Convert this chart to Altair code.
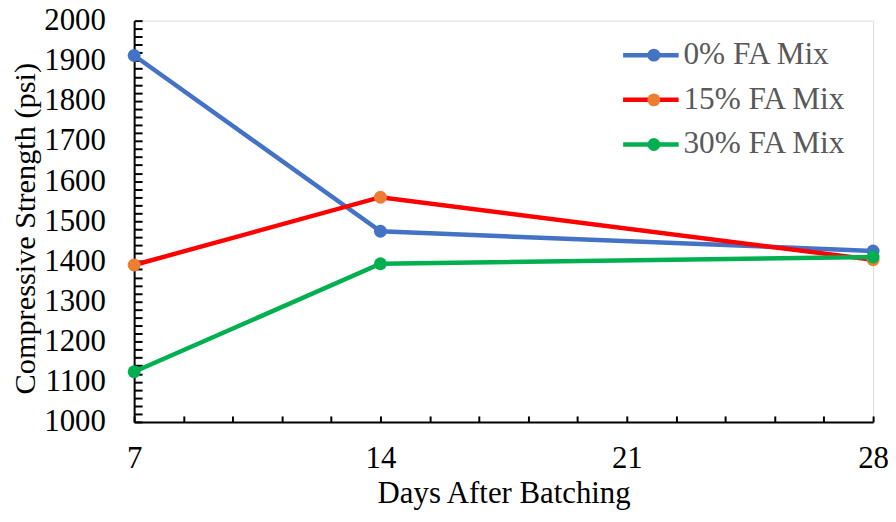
import altair as alt
import pandas as pd

# ---- data ----
days = [7, 14, 28]
series_names = ["0% FA Mix", "15% FA Mix", "30% FA Mix"]
fa0 = [1913, 1475, 1426]
fa15 = [1391, 1560, 1404]
fa30 = [1125, 1394, 1411]
line_colors = ["#4472C4", "#FF0000", "#00B050"]
marker_colors = ["#4472C4", "#ED7D31", "#00B050"]
y_labels = [1000, 1100, 1200, 1300, 1400, 1500, 1600, 1700, 1800, 1900, 2000]
x_labels = [7, 14, 21, 28]
y_minor = list(range(1000, 2001, 20))
x_minor = [round(7 + 1.4 * i, 2) for i in range(16)]

# marker legend uses a different domain (trailing no-break space) so that
# Vega-Lite keeps the line legend and the marker legend apart
marker_names = [n + "\u00a0" for n in series_names]

rows = []
for name, mname, vals in zip(series_names, marker_names, [fa0, fa15, fa30]):
    for d, v in zip(days, vals):
        rows.append({"day": d, "strength": v, "series": name, "marker": mname})
df = pd.DataFrame(rows)

FONT = "Liberation Serif"
W, H = 744, 404
LEG_FS = 31.5

xscale = alt.Scale(domain=[7, 28], nice=False, zero=False)
yscale = alt.Scale(domain=[1000, 2000], nice=False, zero=False)

base = alt.Chart(df)

tick_layer = base.mark_circle(opacity=0).encode(
    x=alt.X("day:Q", scale=xscale, axis=alt.Axis(
        orient="top", offset=-H, values=x_minor, labels=False, domain=False,
        ticks=True, tickSize=6, tickWidth=2, tickColor="black", title=None, grid=False)),
    y=alt.Y("strength:Q", scale=yscale, axis=alt.Axis(
        orient="right", offset=-W, values=y_minor, labels=False, domain=False,
        ticks=True, tickSize=8, tickWidth=2, tickColor="black", title=None, grid=False)),
)

lines = base.mark_line(strokeWidth=4.5).encode(
    x=alt.X("day:Q", scale=xscale, axis=alt.Axis(
        orient="bottom", values=x_labels, format="d", title="Days After Batching",
        ticks=False, tickSize=0, labelPadding=46, labelBaseline="alphabetic",
        labelFlush=False, domainColor="black", domainWidth=2,
        labelFont=FONT, labelFontSize=31, labelColor="black",
        titleFont=FONT, titleFontSize=31, titleFontWeight="normal", titleColor="black",
        titleY=81, titleBaseline="alphabetic", grid=False)),
    y=alt.Y("strength:Q", scale=yscale, axis=alt.Axis(
        orient="left", values=y_labels, format="d", title="Compressive Strength (psi)",
        ticks=False, tickSize=0, labelPadding=29, labelFlush=False,
        domainColor="black", domainWidth=2,
        labelFont=FONT, labelFontSize=31, labelColor="black",
        titleFont=FONT, titleFontSize=30.5, titleFontWeight="normal", titleColor="black",
        titleX=-100, titleY=209, titleBaseline="alphabetic", grid=False)),
    color=alt.Color("series:N", scale=alt.Scale(domain=series_names, range=line_colors),
                    legend=alt.Legend(
                        title=None, orient="none", legendX=504.5, legendY=19, padding=0,
                        symbolType="M-4.3,0L4.3,0", symbolSize=169, symbolStrokeWidth=4.5,
                        labelFont=FONT, labelFontSize=LEG_FS, labelColor="#595959",
                        labelOffset=17, rowPadding=12, labelLimit=400, zindex=0)),
)

points = base.mark_circle(size=169, opacity=1).encode(
    x=alt.X("day:Q", scale=xscale, axis=None),
    y=alt.Y("strength:Q", scale=yscale, axis=None),
    fill=alt.Fill("marker:N", scale=alt.Scale(domain=marker_names, range=marker_colors),
                  legend=alt.Legend(
                      title=None, orient="none", legendX=507.5, legendY=19, padding=0,
                      symbolType="circle", symbolSize=169, symbolStrokeWidth=0,
                      labelFont=FONT, labelFontSize=LEG_FS, labelColor="#595959",
                      labelExpr="' '", labelOffset=17, rowPadding=12, labelLimit=400,
                      zindex=1)),
)

chart = alt.layer(tick_layer, lines, points).resolve_axis(
    x="independent", y="independent"
).properties(
    width=W, height=H,
    autosize=alt.AutoSizeParams(type="none"),
    padding={"left": 127, "top": 11, "right": 15, "bottom": 91},
).configure_view(stroke=None).configure(background="white").configure_axis(
    labelFont=FONT, titleFont=FONT, labelFontSize=31, titleFontSize=31,
    labelColor="black", titleColor="black", titleFontWeight="normal", grid=False
).configure_legend(labelFont=FONT, labelFontSize=LEG_FS)

chart.save("out.html", embed_options={"renderer": "svg", "actions": False})
